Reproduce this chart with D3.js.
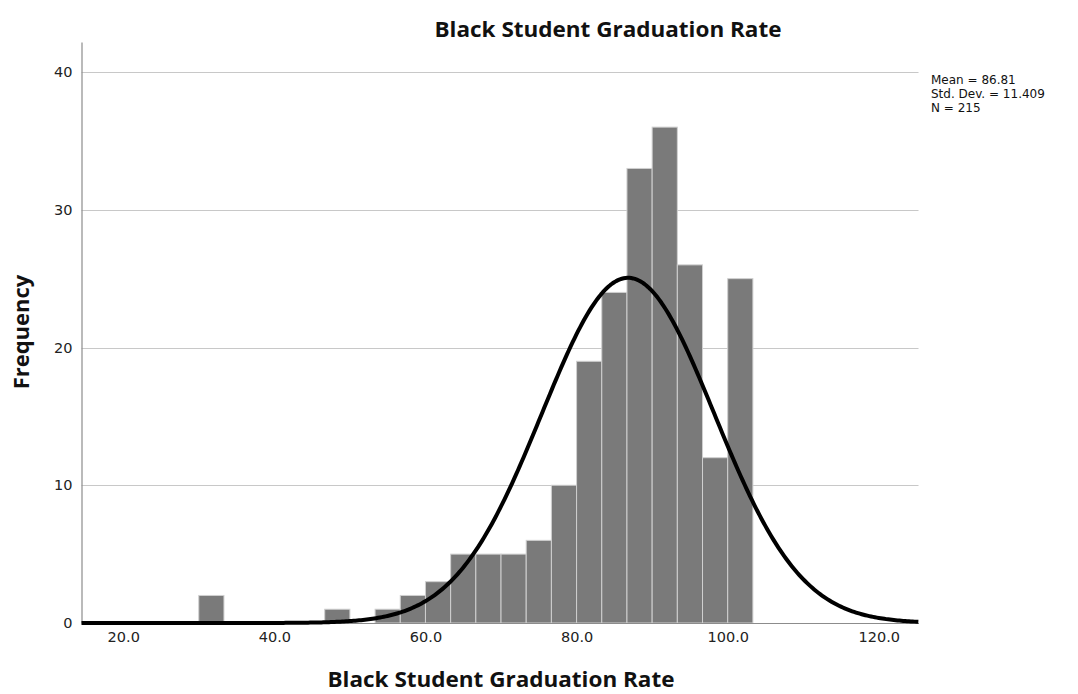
<!DOCTYPE html>
<html>
<head>
<meta charset="utf-8">
<script src="https://cdn.jsdelivr.net/npm/d3@7"></script>
<style>
  html, body { margin: 0; padding: 0; background: #fff; }
  svg { display: block; }
</style>
</head>
<body>
<svg id="chart" width="1078" height="694"></svg>
<script>
// ---- data ----
const binLower = [30.0, 46.667, 53.333, 56.667, 60.0, 63.333, 66.667, 70.0, 73.333, 76.667, 80.0, 83.333, 86.667, 90.0, 93.333, 96.667, 100.0];
const binUpper = [33.333, 50.0, 56.667, 60.0, 63.333, 66.667, 70.0, 73.333, 76.667, 80.0, 83.333, 86.667, 90.0, 93.333, 96.667, 100.0, 103.333];
const counts   = [2, 1, 1, 2, 3, 5, 5, 5, 6, 10, 19, 24, 33, 36, 26, 12, 25];
const xTicks = [20, 40, 60, 80, 100, 120];
const yTicks = [0, 10, 20, 30, 40];
const statLabels = ["Mean = 86.81", "Std. Dev. = 11.409", "N = 215"];
const mean = 86.81, sd = 11.409, n = 215, binWidth = 10 / 3;
const titleText = "Black Student Graduation Rate";
const xTitle = "Black Student Graduation Rate";
const yTitle = "Frequency";

// ---- layout ----
const svg = d3.select("#chart");
const L = 81.5, R = 918.5, T = 42, B = 623;
const x = d3.scaleLinear().domain([14.48, 125.25]).range([L, R]);
const y = d3.scaleLinear().domain([0, 42.18]).range([B, T]);
const titleFont = "'Open Sans', 'Noto Sans', sans-serif";
const tickFont = "'DejaVu Sans', sans-serif";

// gridlines
svg.append("g").selectAll("line").data(yTicks.filter(d => d > 0)).join("line")
  .attr("x1", L).attr("x2", R)
  .attr("y1", d => Math.round(y(d)) + 0.5).attr("y2", d => Math.round(y(d)) + 0.5)
  .attr("stroke", "#c8c8c8").attr("stroke-width", 1.2);

// bars
svg.append("g").selectAll("rect").data(counts).join("rect")
  .attr("x", (d, i) => x(binLower[i]))
  .attr("width", (d, i) => x(binUpper[i]) - x(binLower[i]))
  .attr("y", d => y(d))
  .attr("height", d => B - y(d))
  .attr("fill", "#7a7a7a")
  .attr("stroke", "#d0d0d0")
  .attr("stroke-width", 1);

// axes
const xAxis = d3.axisBottom(x).tickValues(xTicks).tickFormat(d3.format(".1f")).tickSize(0).tickPadding(9);
const gx = svg.append("g").attr("transform", `translate(0,${B})`).call(xAxis);
gx.select(".domain").attr("stroke", "#8c8c8c").attr("stroke-width", 1.2);
gx.selectAll("text").attr("font-family", tickFont).attr("font-size", 14.5).attr("fill", "#222");

const yAxis = d3.axisLeft(y).tickValues(yTicks).tickFormat(d3.format("d")).tickSize(0).tickPadding(9);
const gy = svg.append("g").attr("transform", `translate(${L},0)`).call(yAxis);
gy.select(".domain").attr("stroke", "#8c8c8c").attr("stroke-width", 1.2);
gy.selectAll("text").attr("font-family", tickFont).attr("font-size", 14.5).attr("fill", "#222");

// normal curve
const pts = d3.range(x.domain()[0], x.domain()[1] + 0.001, 0.25);
const normal = v => n * binWidth / (sd * Math.sqrt(2 * Math.PI)) * Math.exp(-0.5 * Math.pow((v - mean) / sd, 2));
svg.append("path").datum(pts)
  .attr("d", d3.line().x(d => x(d)).y(d => y(normal(d))))
  .attr("fill", "none").attr("stroke", "#000").attr("stroke-width", 4)
  .attr("stroke-linejoin", "round");

// titles
svg.append("text").attr("x", 608).attr("y", 37).attr("text-anchor", "middle")
  .attr("font-family", titleFont).attr("font-weight", "bold").attr("font-size", 22).attr("fill", "#111")
  .attr("textLength", 347).attr("lengthAdjust", "spacingAndGlyphs")
  .text(titleText);
svg.append("text").attr("x", 501).attr("y", 687).attr("text-anchor", "middle")
  .attr("font-family", titleFont).attr("font-weight", "bold").attr("font-size", 22).attr("fill", "#111")
  .attr("textLength", 347).attr("lengthAdjust", "spacingAndGlyphs")
  .text(xTitle);
svg.append("text").attr("transform", "translate(29,332) rotate(-90)").attr("text-anchor", "middle")
  .attr("font-family", titleFont).attr("font-weight", "bold").attr("font-size", 22).attr("fill", "#111")
  .text(yTitle);

// stats
svg.append("g").selectAll("text").data(statLabels).join("text")
  .attr("x", 931).attr("y", (d, i) => 84 + i * 14)
  .attr("font-family", tickFont).attr("font-size", 12).attr("fill", "#111")
  .text(d => d);
</script>
</body>
</html>
